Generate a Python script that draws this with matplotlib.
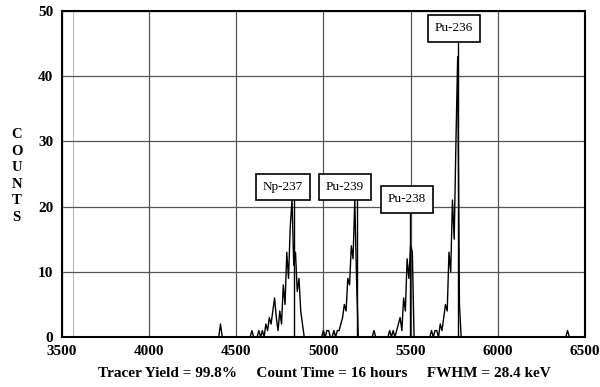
import numpy as np
import matplotlib.pyplot as plt

# alpha spectrum, counts per 10 keV channel
np237_start = 4600
np237_counts = [0, 0, 0, 1, 0, 1, 0, 2, 1, 3, 2, 4, 6, 3, 1, 4, 2, 8, 5, 13,
                9, 17, 21, 11, 13, 7, 9, 4, 2, 0]
pu239_start = 5000
pu239_counts = [1, 0, 1, 1, 0, 0, 1, 0, 1, 1, 2, 3, 5, 4, 9, 8, 14, 12, 21, 9, 0]
pu238_start = 5380
pu238_counts = [1, 0, 1, 0, 1, 2, 3, 1, 6, 4, 12, 9, 14, 13, 0]
pu236_start = 5620
pu236_counts = [1, 0, 1, 1, 0, 2, 1, 3, 5, 4, 13, 10, 21, 15, 30, 43, 5, 0]
spike_e = [4410, 4590, 5290, 6400]
spike_c = [2, 1, 1, 1]

labels = ["Np-237", "Pu-239", "Pu-238", "Pu-236"]
label_e = [4830, 5190, 5497, 5772]
label_x = [4768, 5124, 5479, 5749]
label_y = [23.0, 23.0, 21.1, 47.3]

energy = np.arange(3500, 6510, 10)
counts = np.zeros(len(energy))
for start, seg in [(np237_start, np237_counts), (pu239_start, pu239_counts),
                   (pu238_start, pu238_counts), (pu236_start, pu236_counts)]:
    i0 = (start - 3500) // 10
    counts[i0:i0 + len(seg)] = seg
for e, c in zip(spike_e, spike_c):
    counts[(e - 3500) // 10] = c

plt.rcParams['font.family'] = ['Liberation Serif', 'DejaVu Serif']

fig = plt.figure(figsize=(6, 3.87), dpi=100)
ax = fig.add_axes([0.103, 0.129, 0.872, 0.843])

ax.plot(energy, counts, color='black', lw=1.0)

for lab, le, lx, ly in zip(labels, label_e, label_x, label_y):
    ax.plot([le, le], [0, ly - 1.8], color='black', lw=1.0)
    ax.text(lx, ly, lab, ha='center', va='center', fontsize=9.5,
            bbox=dict(boxstyle='square,pad=0.55', fc='white', ec='black', lw=1.2))

ax.axvline(3563, color='#bbbbbb', lw=0.8, zorder=0)
ax.set_xlim(3500, 6500)
ax.set_ylim(0, 50)
ax.set_xticks([3500, 4000, 4500, 5000, 5500, 6000, 6500])
ax.set_yticks([0, 10, 20, 30, 40, 50])
ax.grid(True, color='#555555', lw=0.9)
ax.set_axisbelow(True)
ax.tick_params(length=0, pad=6, labelsize=11)
for lbl in ax.get_xticklabels() + ax.get_yticklabels():
    lbl.set_fontweight('bold')
for s in ax.spines.values():
    s.set_linewidth(1.5)

fig.text(0.028, 0.545, "C\nO\nU\nN\nT\nS", ha='center', va='center',
         fontsize=10.5, fontweight='bold', linespacing=1.35)
fig.text(0.54, 0.035,
         "Tracer Yield = 99.8%     Count Time = 16 hours     FWHM = 28.4 keV",
         ha='center', va='center', fontsize=11, fontweight='bold')

fig.savefig("out.png", dpi=100)
